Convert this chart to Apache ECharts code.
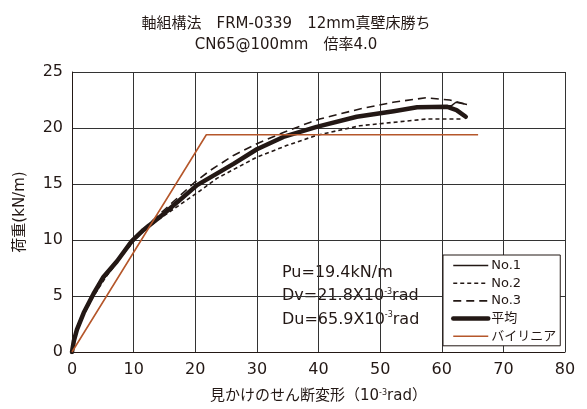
<!DOCTYPE html>
<html>
<head>
<meta charset="utf-8">
<script src="https://cdn.jsdelivr.net/npm/echarts@6/dist/echarts.min.js"></script>
<style>html,body{margin:0;padding:0;background:#fff}#c{width:587px;height:409px}</style>
</head>
<body>
<div id="c"></div>
<script>
const seriesNames = ['No.1', 'No.2', 'No.3', '平均', 'バイリニア'];
const xTicks = [0, 10, 20, 30, 40, 50, 60, 70, 80];
const yTicks = [0, 5, 10, 15, 20, 25];

const no1X = [0,0.3,0.8,1.9,3.5,5.1,7.3,9.7,11.6,14.9,20.3,26.2,30,34.3,39.7,46.2,52.2,56,61.6,62.3,64.1];
const no1Y = [0,1.0,1.9,3.4,5.1,6.5,8.0,9.9,10.9,12.4,14.9,16.8,18.1,19.2,20.1,21.0,21.5,21.9,22.0,22.3,22.1];

const no2X = [0,0.5,1.5,3.5,5.5,8,10,12,15,20.8,23.5,30,34.9,39.7,46.7,52.1,57.5,63.5];
const no2Y = [0,1.4,2.9,5.0,6.7,8.5,9.9,11.0,12.2,14.4,15.5,17.4,18.45,19.35,20.2,20.5,20.8,20.8];

const no3X = [0,0.5,1.5,3.5,5.5,8,10,12,15,20,22.4,26.2,30,34.3,38.6,40.2,46.7,52.1,57.5,61.3,64.1];
const no3Y = [0,1.5,3.0,5.2,6.9,8.6,10.0,11.2,12.7,15.2,16.2,17.55,18.6,19.6,20.5,20.8,21.7,22.3,22.7,22.5,22.1];

const avgX = [0,0.3,0.8,1.9,3.5,5.1,7.3,9.7,11.6,14.9,20.3,26.2,30,34.3,39.7,46.2,52.2,56,60.8,62.4,63.9];
const avgY = [0,1.0,2.0,3.5,5.2,6.7,8.1,9.9,10.9,12.35,14.9,16.8,18.1,19.2,20.1,21.0,21.5,21.85,21.9,21.6,21.0];

const bilinX = [0, 21.8, 65.9];
const bilinY = [0, 19.4, 19.4];

const pair = (xs, ys) => xs.map((x, i) => [x, ys[i]]);

const FONT = '"DejaVu Sans", "Noto Sans CJK JP", sans-serif';
const INK = '#231815';
const BROWN = '#b5572b';

const chart = echarts.init(document.getElementById('c'), null, {renderer: 'canvas'});
chart.setOption({
  animation: false,
  backgroundColor: '#fff',
  textStyle: {fontFamily: FONT, color: INK},
  title: {
    text: '軸組構法　FRM-0339　12mm真壁床勝ち\nCN65@100mm　倍率4.0',
    left: 281, top: 8, textAlign: 'center',
    textStyle: {fontFamily: FONT, fontSize: 15, fontWeight: 'normal', color: INK, lineHeight: 21.5}
  },
  grid: {left: 72, right: 22, top: 72, bottom: 57, containLabel: false},
  xAxis: {
    type: 'value', min: xTicks[0], max: xTicks[xTicks.length - 1], interval: 10,
    name: '見かけのせん断変形（10{sup|-3}rad）',
    nameLocation: 'middle', nameGap: 37,
    nameTextStyle: {fontFamily: FONT, fontSize: 15, color: INK,
      rich: {sup: {fontSize: 8, verticalAlign: 'top', fontFamily: FONT, color: INK, padding: [0, 0, 6, 0]}}},
    axisLine: {lineStyle: {color: INK, width: 1}},
    axisTick: {show: false},
    axisLabel: {fontFamily: FONT, fontSize: 16, color: INK, margin: 10},
    splitLine: {show: true, lineStyle: {color: '#333', width: 1}}
  },
  yAxis: {
    type: 'value', min: yTicks[0], max: yTicks[yTicks.length - 1], interval: 5,
    name: '荷重(kN/m)', nameLocation: 'middle', nameGap: 44,
    nameTextStyle: {fontFamily: FONT, fontSize: 15, color: INK},
    axisLine: {show: true, lineStyle: {color: INK, width: 1}},
    axisTick: {show: false},
    axisLabel: {fontFamily: FONT, fontSize: 16, color: INK, margin: 9},
    splitLine: {show: true, lineStyle: {color: '#333', width: 1}}
  },
  legend: {
    orient: 'vertical', left: 443, top: 255,
    padding: [4, 4, 3, 8], itemGap: 4.7, itemWidth: 35, itemHeight: 13,
    backgroundColor: '#fff', borderColor: INK, borderWidth: 1,
    itemStyle: {opacity: 0},
    lineStyle: {width: 'inherit'},
    textStyle: {fontFamily: FONT, fontSize: 13, color: INK, padding: [0, 0, 0, -2]},
    data: seriesNames
  },
  graphic: [{
    type: 'text', left: 282, top: 261,
    style: {
      text: 'Pu=19.4kN/m\nDv=21.8X10{sup|-3}rad\nDu=65.9X10{sup|-3}rad',
      fontSize: 16, fontFamily: FONT, fill: INK, lineHeight: 23.5,
      rich: {sup: {fontSize: 8, verticalAlign: 'top', fontFamily: FONT, fill: INK, padding: [3, 0, 0, 0]}}
    }
  }],
  series: [
    {name: seriesNames[0], type: 'line', data: pair(no1X, no1Y), symbol: 'none', color: INK,
     lineStyle: {color: INK, width: 1.5}},
    {name: seriesNames[1], type: 'line', data: pair(no2X, no2Y), symbol: 'none', color: INK,
     lineStyle: {color: INK, width: 1.6, type: [4, 3]}},
    {name: seriesNames[2], type: 'line', data: pair(no3X, no3Y), symbol: 'none', color: INK,
     lineStyle: {color: INK, width: 1.6, type: [8, 5]}},
    {name: seriesNames[3], type: 'line', data: pair(avgX, avgY), symbol: 'none', color: INK,
     lineStyle: {color: INK, width: 4.5, cap: 'round', join: 'round'}},
    {name: seriesNames[4], type: 'line', data: pair(bilinX, bilinY), symbol: 'none', color: BROWN,
     lineStyle: {color: BROWN, width: 1.6}, z: 5}
  ]
});
</script>
</body>
</html>
